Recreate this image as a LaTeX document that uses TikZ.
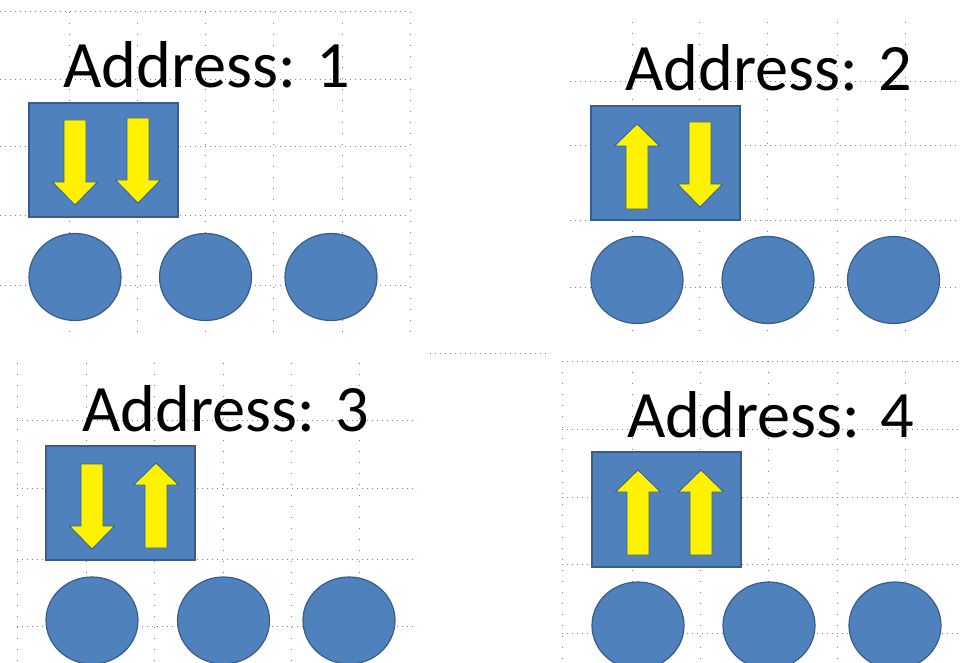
\documentclass[tikz,border=0pt]{standalone}
\usepackage{fontspec}
\setmainfont{Carlito}
\definecolor{boxblue}{HTML}{4F81BD}
\definecolor{boxline}{HTML}{385D8A}
\definecolor{gridgray}{HTML}{808080}
\tikzset{
  hgrid/.style={gridgray, line width=1pt, dash pattern=on 1pt off 4pt},
  vgrid/.style={gridgray, line width=1pt, dash pattern=on 1pt off 10pt},
  spinbox/.style={fill=boxblue, draw=boxline, line width=1.2pt},
  site/.style={ellipse, fill=boxblue, draw=boxline, line width=1.2pt, minimum width=92pt, minimum height=87pt, inner sep=0pt},
  label/.style={anchor=base west, inner sep=0pt, font=\fontsize{66.3}{80}\selectfont},
  arrowshape/.style={fill=yellow, draw=boxline, line width=0.8pt, line join=miter},
  dnarr/.pic={\path[arrowshape] (-11,0) -- (11,0) -- (11,62) -- (22.5,62) -- (0,85) -- (-22.5,62) -- (-11,62) -- cycle;},
  uparr/.pic={\path[arrowshape] (0,0) -- (22.5,22) -- (11,22) -- (11,85) -- (-11,85) -- (-11,22) -- (-22.5,22) -- cycle;}
}
\usetikzlibrary{shapes.geometric}
\begin{document}
\begin{tikzpicture}[x=1pt,y=-1pt]
\useasboundingbox[fill=white] (0,0) rectangle (960,663);
% grids
\foreach \x in {69,137,205,273,342,410} \draw[vgrid] (\x,12) -- (\x,342);
\foreach \y in {12,80,147,215,285} \draw[hgrid] (0,\y) -- (410,\y);
\foreach \x in {632,699,767,837,905} \draw[vgrid] (\x,22) -- (\x,340);
\foreach \y in {82,146,220,287} \draw[hgrid] (570,\y) -- (960,\y);
\foreach \x in {17,86,154,223,291,359} \draw[vgrid] (\x,363) -- (\x,663);
\foreach \y in {420,488,559,626} \draw[hgrid] (17,\y) -- (417,\y);
\foreach \x in {562,632,700,768,837,905} \draw[vgrid] (\x,361) -- (\x,663);
\foreach \y in {361,429,497,564,633} \draw[hgrid] (562,\y) -- (960,\y);
\draw[hgrid] (430,353) -- (550,353);
% panel 1
\node[label] (t1) at (63,88) {Address: 1};
\draw[spinbox] (29,103) rectangle (178,217);
\pic at (75,120) {dnarr};
\pic at (138,118) {dnarr};
\node[site] (a1) at (75,277) {};
\node[site] (a2) at (205.5,277) {};
\node[site] (a3) at (331,277) {};
% panel 2
\node[label] (t2) at (625,91) {Address: 2};
\draw[spinbox] (591,106) rectangle (740,220);
\pic at (637,124) {uparr};
\pic at (700,122) {dnarr};
\node[site] (b1) at (637,280) {};
\node[site] (b2) at (768,280) {};
\node[site] (b3) at (893.5,280) {};
% panel 3
\node[label] (t3) at (82,431) {Address: 3};
\draw[spinbox] (46,446) rectangle (195,560);
\pic at (92,464) {dnarr};
\pic at (156,463) {uparr};
\node[site] (c1) at (92,620.5) {};
\node[site] (c2) at (223.5,620.5) {};
\node[site] (c3) at (349,620.5) {};
% panel 4
\node[label] (t4) at (627,437) {Address: 4};
\draw[spinbox] (592,452) rectangle (741,567);
\pic at (638,470) {uparr};
\pic at (701,470) {uparr};
\node[site] (d1) at (638,625.5) {};
\node[site] (d2) at (769,625.5) {};
\node[site] (d3) at (895,625.5) {};
\end{tikzpicture}
\end{document}
